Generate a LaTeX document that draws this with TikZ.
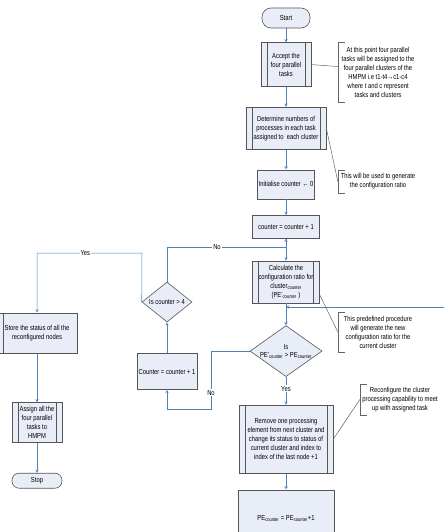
\documentclass[tikz,border=0pt]{standalone}
\usepackage{fontspec}
\setmainfont[FakeStretch=0.8]{Liberation Sans}
\usetikzlibrary{arrows, positioning, shapes.geometric}

\definecolor{flowblue}{RGB}{79,129,189}
\definecolor{boxfill}{RGB}{233,237,247}
\definecolor{boxgray}{RGB}{85,85,85}
\definecolor{notegray}{RGB}{100,100,100}

\begin{document}
\begin{tikzpicture}[x=1pt, y=1pt, >=stealth, font=\fontsize{7.3}{9}\selectfont]
        \tikzstyle{process} = [rectangle, draw=boxgray, fill=boxfill, line width=0.6pt, align=center, inner sep=1pt]
        \tikzstyle{predef} = [process, path picture={
            \draw[boxgray, line width=0.6pt]
              ([xshift=6pt]path picture bounding box.north west) -- ([xshift=6pt]path picture bounding box.south west)
              ([xshift=-6pt]path picture bounding box.north east) -- ([xshift=-6pt]path picture bounding box.south east);}]
        \tikzstyle{leftbar} = [process, path picture={
            \draw[boxgray, line width=0.6pt]
              ([xshift=6pt]path picture bounding box.north west) -- ([xshift=6pt]path picture bounding box.south west);}]
        \tikzstyle{terminal} = [process, rounded corners=7pt]
        \tikzstyle{decision} = [diamond, draw=boxgray, fill=boxfill, line width=0.6pt, inner sep=0pt, align=center]
        \tikzstyle{note} = [rectangle, minimum width=80pt, inner sep=2pt, align=center]
        \tikzstyle{bracket} = [draw=notegray, line width=0.6pt]
        \tikzstyle{notelink} = [draw=notegray, line width=0.5pt]
        \tikzstyle{flow} = [->, color=flowblue, line width=0.5pt]
        \tikzstyle{answer} = [fill=white, inner sep=1pt, text=black]

        \useasboundingbox (0,0) rectangle (444,-532);

        % main column
        \node[terminal, minimum width=48pt, minimum height=20pt, rounded corners=9pt](start) at (286,-18) {Start};
        \node[predef, minimum width=50pt, minimum height=44pt](accept) [below=14pt of start] {Accept the\\four parallel\\tasks};
        \node[predef, minimum width=80pt, minimum height=42pt](determine) [below=20pt of accept] {Determine numbers of\\processes in each task\\assigned to\ \ each cluster};
        \node[process, minimum width=55pt, minimum height=29pt](init) [below=20pt of determine] {Initialise counter ← 0};
        \node[process, minimum width=67pt, minimum height=23pt](count) [below=16pt of init] {counter = counter + 1};
        \node[predef, minimum width=67pt, minimum height=42pt](calc) [below=22pt of count] {Calculate the\\configuration ratio for\\cluster\textsubscript{counter}\\(PE'\textsubscript{counter} )};
        \node[decision, minimum width=72pt, minimum height=51pt](checkpe) [below=22pt of calc] {\makebox[0pt]{\shortstack{Is\\PE'\textsubscript{counter} > PE\textsubscript{counter}}}};
        \node[predef, minimum width=94pt, minimum height=68pt](reconf) [below=28pt of checkpe] {Remove one processing\\element from next cluster and\\change its status to status of\\current cluster and index to\\index of the last node +1};
        \node[process, minimum width=96pt, text height=29pt, text depth=9pt, inner sep=2pt](peinc) [below=16pt of reconf] {PE\textsubscript{counter} = PE\textsubscript{counter}+1};

        % left column
        \node[decision, minimum width=50pt, minimum height=40pt](checkcnt) at (167,-302) {\makebox[0pt]{Is counter > 4}};
        \node[process, minimum width=60pt, minimum height=36pt](cntinc) [below=31pt of checkcnt] {Counter = counter + 1};
        \node[leftbar, minimum width=80pt, minimum height=40pt](store) at (37,-333) {Store the status of all the\\reconfigured nodes};
        \node[predef, minimum width=50pt, minimum height=40pt](assign) [below=49pt of store] {Assign all the\\four parallel\\tasks to\\HMPM};
        \node[terminal, minimum width=50pt, minimum height=15pt](stop) [below=30pt of assign] {Stop};

        % annotations
        \node[note, minimum height=59pt](note_accept) at (378,-72.5) {At this point four parallel\\tasks will be assigned to the\\four parallel clusters of the\\HMPM i.e t1-t4→c1-c4\\where t and c represent\\tasks and clusters};
        \node[note, minimum height=23pt](note_determine) at (378,-181.5) {This will be used to generate\\the configuration ratio};
        \node[note, minimum height=40pt](note_calc) at (378,-332) {This predefined procedure\\will generate the new\\configuration ratio for the\\current cluster};
        \node[note, minimum height=31pt](note_reconf) at (400,-399.5) {Reconfigure the cluster\\processing capability to meet\\up with assigned task};

        \foreach \n in {note_accept, note_determine, note_calc, note_reconf}
            \draw[bracket] ([xshift=7pt]\n.north west) -| (\n.south west) -- ++(7pt,0);

        \draw[notelink] (accept.east) -- ([yshift=6pt]note_accept.west);
        \draw[notelink] (determine.east) -- (note_determine.west);
        \draw[notelink] ([yshift=-13pt]calc.east) -- (note_calc.west);
        \draw[notelink] (reconf.east) -- (note_reconf.west);

        % flow
        \path[flow] (start) edge (accept)
              (accept) edge (determine)
              (determine) edge (init)
              (init) edge (count)
              (count) edge (calc)
              (calc) edge (checkpe)
              (checkpe) edge node[answer, pos=0.43] {Yes} (reconf)
              (reconf) edge (peinc)
              (cntinc) edge (checkcnt)
              (store) edge (assign)
              (assign) edge (stop);

        \coordinate (no_turn) at (211,-409);
        \coordinate (yes_turn) at (142,-253);
        \coordinate (no_join) at (286,-247);
        \coordinate (loop_in) at (444,-307);
        \coordinate (loop_out) at (305,-532);

        \draw[flow] (checkpe.west) -| node[answer, pos=0.86] {No} (no_turn) -| (cntinc.south);
        \draw[flow] (checkcnt.west) -- (yes_turn) -| node[answer, pos=0.27] {Yes} (store.north);
        \draw[flow] (checkcnt.north) |- node[answer, pos=0.71] {No} (no_join) -- (count.south);
        \draw[flow] (loop_in) -- (loop_in -| calc.south);
        \draw[flowblue, line width=0.5pt] (peinc.south -| loop_out) -- (loop_out);
\end{tikzpicture}
\end{document}
